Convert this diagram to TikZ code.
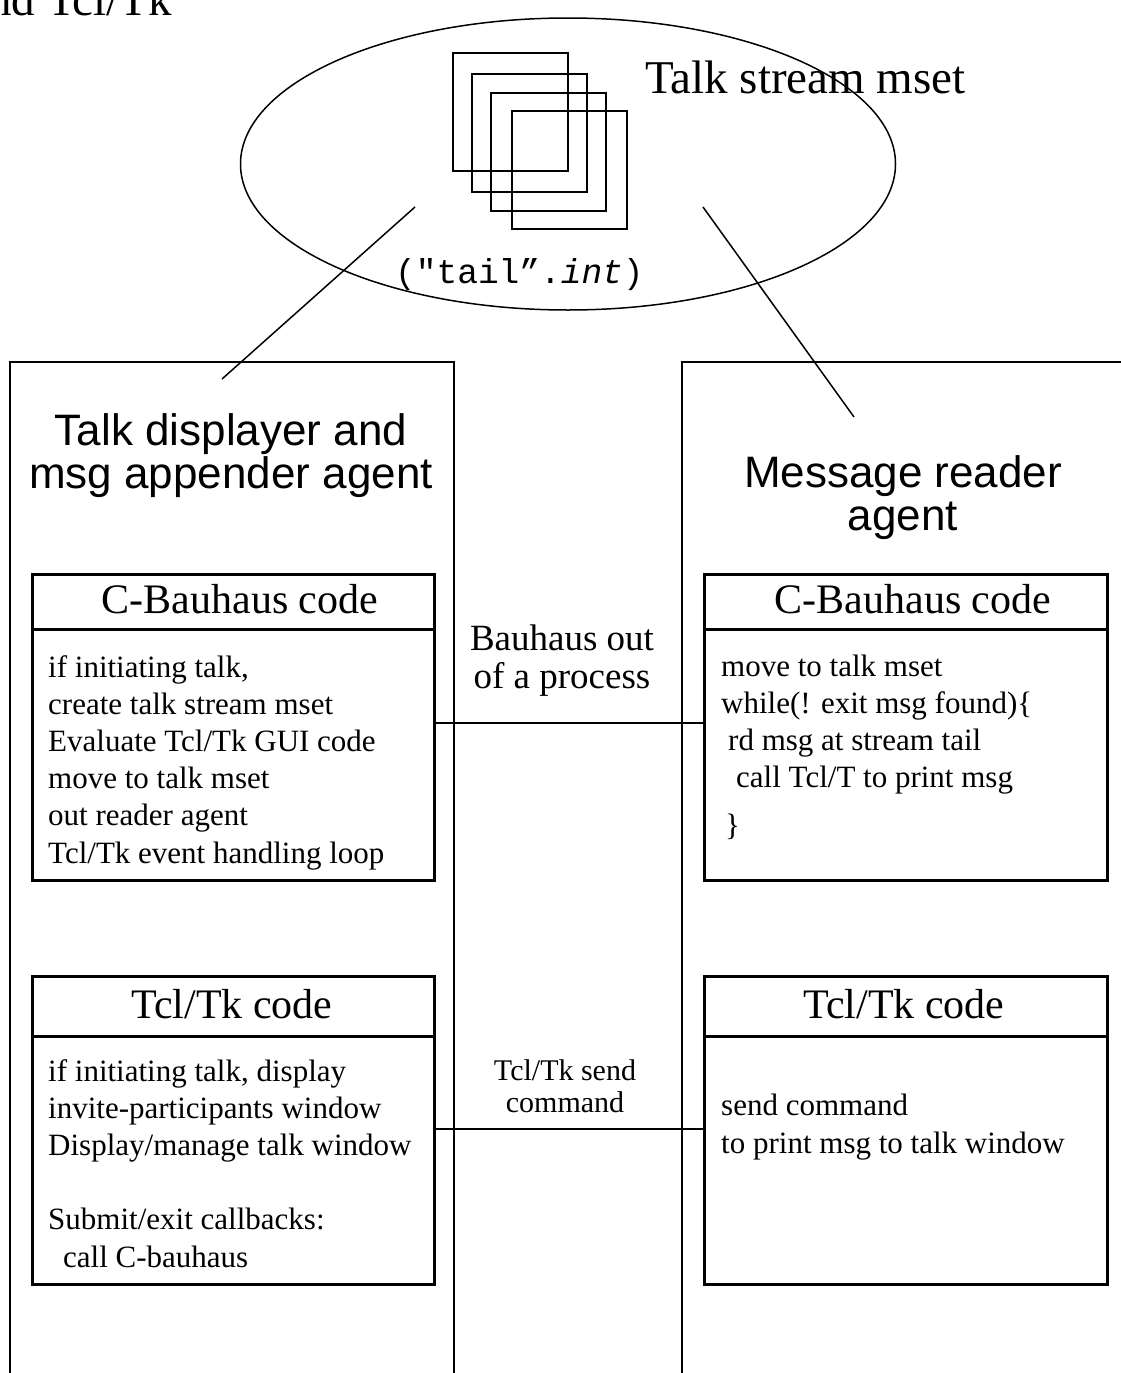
\documentclass[tikz,border=0pt]{standalone}
\usepackage{fontspec}
\setmainfont{Liberation Serif}
\newfontfamily\helv{Liberation Sans}
\newfontfamily\cour{Liberation Mono}
\usetikzlibrary{shapes.geometric}
\tikzset{
  agentbox/.style={draw, line width=1.5pt, anchor=north west, inner sep=0pt},
  codebox/.style={draw, line width=2.6pt, anchor=north west, inner sep=0pt},
  sq/.style={draw, line width=2pt, anchor=north west, inner sep=0pt, minimum width=115pt, minimum height=118pt},
  conn/.style={line width=1.8pt},
  thinline/.style={line width=1.5pt},
  hdr/.style={font=\fontsize{42pt}{46pt}\selectfont, anchor=base, inner sep=0pt},
  bodytext/.style={font=\fontsize{31pt}{37.2pt}\selectfont, anchor=base west, inner sep=0pt, align=left},
  agt/.style={font=\helv\fontsize{44pt}{43pt}\selectfont, anchor=base, inner sep=0pt, align=center},
}
\begin{document}
\begin{tikzpicture}[x=1pt,y=-1pt]
\useasboundingbox[fill=white] (0,0) rectangle (1120,1373);

% title fragment
\node[font=\fontsize{47pt}{50pt}\selectfont, anchor=base east, inner sep=0pt] (title) at (172,15) {nd Tcl/Tk};

% ellipse and stream
\node[draw, ellipse, line width=1.5pt, minimum width=655pt, minimum height=292pt, inner sep=0pt] (mset) at (568,164) {};
\node[sq] (s1) at (452,52) {};
\node[sq] (s2) at (471,73) {};
\node[sq] (s3) at (490,92) {};
\node[sq] (s4) at (511,110) {};
\node[font=\fontsize{47pt}{50pt}\selectfont, anchor=base west, inner sep=0pt] (msetlabel) at (645,93) {Talk stream mset};
\node[font=\cour\fontsize{34.5pt}{36pt}\selectfont, anchor=base west, inner sep=0pt] (tail) at (395,283) {("tail”.\textit{int})};

% agents (base anchor of a multi-line node = last line)
\node[agentbox, minimum width=444pt, minimum height=1100pt] (agL) at (9,361) {};
\node[agentbox, minimum width=500pt, minimum height=1100pt] (agR) at (681,361) {};
\node[agt] (agLt) at (231,488) {Talk displayer and\\msg appender agent};
\node[agt] (agRt) at (903,530) {Message reader\\agent};

% links to stream
\coordinate (lA) at (415,207);
\coordinate (lB) at (222,379);
\coordinate (rA) at (703,207);
\coordinate (rB) at (854,417);
\draw[thinline] (lA) -- (lB);
\draw[thinline] (rA) -- (rB);

% C-Bauhaus boxes
\node[codebox, minimum width=402pt, minimum height=55pt] (cbhL) at (31,573) {};
\node[codebox, minimum width=402pt, minimum height=251pt] (cbbL) at (31,628) {};
\node[codebox, minimum width=403pt, minimum height=55pt] (cbhR) at (703,573) {};
\node[codebox, minimum width=403pt, minimum height=251pt] (cbbR) at (703,628) {};
\node[hdr] (cbhLt) at (240,613) {C-Bauhaus code};
\node[hdr] (cbhRt) at (913,613) {C-Bauhaus code};
\node[bodytext] (cbbLt) at (48,863) {if initiating talk,\\create talk stream mset\\Evaluate Tcl/Tk GUI code\\move to talk mset\\out reader agent\\Tcl/Tk event handling loop};
\node[bodytext] (cbbRt) at (721,835) {move to talk mset\\while(! exit msg found)\{\\\hspace*{7pt}rd msg at stream tail\\\hspace*{15pt}call Tcl/T to print msg\\[10pt]\hspace*{4pt}\}};

% Tcl/Tk boxes
\node[codebox, minimum width=402pt, minimum height=60pt] (tkhL) at (31,975) {};
\node[codebox, minimum width=402pt, minimum height=248pt] (tkbL) at (31,1035) {};
\node[codebox, minimum width=403pt, minimum height=60pt] (tkhR) at (703,975) {};
\node[codebox, minimum width=403pt, minimum height=248pt] (tkbR) at (703,1035) {};
\node[hdr] (tkhLt) at (232,1018) {Tcl/Tk code};
\node[hdr] (tkhRt) at (904,1018) {Tcl/Tk code};
\node[bodytext] (tkbLt) at (48,1267) {if initiating talk, display\\invite-participants window\\Display/manage talk window\\[37.2pt]Submit/exit callbacks:\\\hspace*{15pt}call C-bauhaus};
\node[bodytext] (tkbRt) at (721,1153) {send command\\to print msg to talk window};

% middle labels and connectors
\node[font=\fontsize{37pt}{38pt}\selectfont, anchor=base, inner sep=0pt, align=center] (lblA) at (562,688) {Bauhaus out\\of a process};
\node[font=\fontsize{30pt}{32pt}\selectfont, anchor=base, inner sep=0pt, align=center] (lblB) at (565,1112) {Tcl/Tk send\\command};
\coordinate (yA) at (0,723);
\coordinate (yB) at (0,1129);
\draw[conn] (cbbL.east |- yA) -- (cbbR.west |- yA);
\draw[conn] (tkbL.east |- yB) -- (tkbR.west |- yB);
\end{tikzpicture}
\end{document}
